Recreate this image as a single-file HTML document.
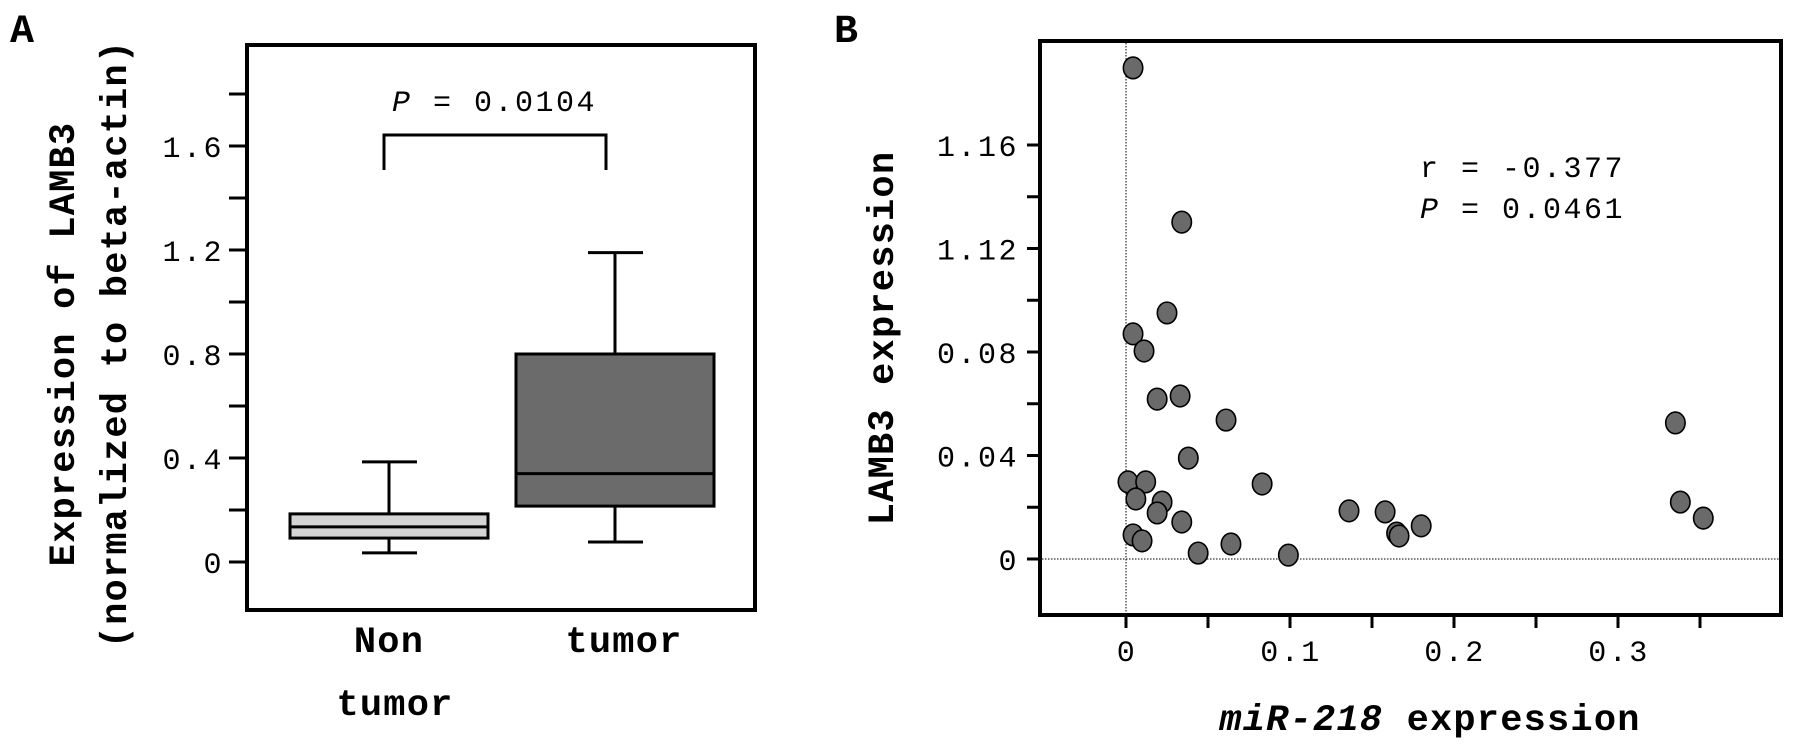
<!DOCTYPE html>
<html><head><meta charset="utf-8"><style>
html,body{margin:0;padding:0;background:#fff;}
svg{display:block;}
text{font-family:"Liberation Mono",monospace;fill:#000;}
.tick{font-size:30px;letter-spacing:2.5px;}
.title{font-size:37px;font-weight:bold;letter-spacing:1.2px;}
</style></head><body>
<svg id="fig" width="1795" height="748" viewBox="0 0 1795 748" xmlns="http://www.w3.org/2000/svg">
<text x="10" y="42" style="font-family:'Liberation Mono',monospace;font-size:40px;font-weight:bold">A</text>
<text x="834" y="42" style="font-family:'Liberation Mono',monospace;font-size:40px;font-weight:bold">B</text>
<g id="pa"></g>
<g id="pb"></g>
</svg>
<script>
// Panel A data
const groups = ["Non", "tumor"];
const whiskerLow = [0.035, 0.077];
const q1 = [0.092, 0.215];
const median = [0.135, 0.34];
const q3 = [0.185, 0.80];
const whiskerHigh = [0.385, 1.19];
const aTicks = [0, 0.4, 0.8, 1.2, 1.6];
const aTickLabels = ["0", "0.4", "0.8", "1.2", "1.6"];
const pLabelA = "0.0104";
// Panel B data
const mirX = [0.0043,0.034,0.025,0.0043,0.011,0.019,0.033,0.061,0.038,0.0012,0.012,0.083,0.006,0.022,0.019,0.034,0.136,0.0043,0.0098,0.044,0.064,0.099,0.158,0.165,0.1665,0.180,0.335,0.338,0.352];
const lambY = [0.1898,0.1302,0.0951,0.0870,0.0804,0.0618,0.0630,0.0537,0.0390,0.0298,0.0298,0.0290,0.0232,0.0220,0.0178,0.0143,0.0186,0.0093,0.0070,0.0023,0.0058,0.0015,0.0182,0.0100,0.0089,0.0128,0.0526,0.0220,0.0158];
const bYTicks = [0, 0.04, 0.08, 0.12, 0.16];
const bYTickLabels = ["0", "0.04", "0.08", "1.12", "1.16"];
const bXTicks = [0, 0.1, 0.2, 0.3];
const bXTickLabels = ["0", "0.1", "0.2", "0.3"];

const NS = "http://www.w3.org/2000/svg";
function mk(parent, tag, attrs, txt){const e=document.createElementNS(NS,tag);for(const k in attrs)e.setAttribute(k,attrs[k]);if(txt!==undefined)e.textContent=txt;parent.appendChild(e);return e;}

// ---- Panel A ----
const pa=document.getElementById('pa');
const ay=v=>562-v*260;
const ax=[389,615];
const bw=[99,99];
let e;
for(let i=0;i<=9;i++){const v=i*0.2;
 e=mk(pa,'line',{x1:229,x2:247,y1:ay(v),y2:ay(v),stroke:'#000','stroke-width':3});
 
 }
aTicks.forEach((v,i)=>{
 e=mk(pa,'text',{x:224,y:ay(v)+11,'text-anchor':'end',class:'tick'},aTickLabels[i]);
 
 });
const fills=['#d4d4d4','#6b6b6b'];
groups.forEach((g,i)=>{
 const c=ax[i];
 e=mk(pa,'line',{x1:c,x2:c,y1:ay(whiskerLow[i]),y2:ay(whiskerHigh[i]),stroke:'#000','stroke-width':3});
 
 
 [whiskerLow[i],whiskerHigh[i]].forEach(v=>{
  e=mk(pa,'line',{x1:c-27,x2:c+28,y1:ay(v),y2:ay(v),stroke:'#000','stroke-width':3});
  
  });
 e=mk(pa,'rect',{x:c-bw[i],y:ay(q3[i]),width:2*bw[i],height:ay(q1[i])-ay(q3[i]),fill:fills[i],stroke:'#000','stroke-width':3});
 
 
 e=mk(pa,'line',{x1:c-bw[i],x2:c+bw[i],y1:ay(median[i]),y2:ay(median[i]),stroke:'#000','stroke-width':3});
 
 
});
e=mk(pa,'rect',{x:247,y:45,width:508,height:565,fill:'none',stroke:'#000','stroke-width':4});


e=mk(pa,'polyline',{points:'384,170 384,135 606,135 606,170',fill:'none',stroke:'#000','stroke-width':3});


e=mk(pa,'text',{x:392,y:111,class:'tick'});


mk(e,'tspan',{'font-style':'italic'},'P');mk(e,'tspan',{},' = '+pLabelA);
e=mk(pa,'text',{x:389,y:652,'text-anchor':'middle',class:'title'},'Non');


e=mk(pa,'text',{x:624,y:652,'text-anchor':'middle',class:'title'},'tumor');


e=mk(pa,'text',{x:395,y:715,'text-anchor':'middle',class:'title'},'tumor');


e=mk(pa,'text',{x:0,y:0,'text-anchor':'middle',class:'title',transform:'translate(74,344) rotate(-90)'},'Expression of LAMB3');


e=mk(pa,'text',{x:0,y:0,'text-anchor':'middle',class:'title',transform:'translate(126,344) rotate(-90)'},'(normalized to beta-actin)');



// ---- Panel B ----
const pb=document.getElementById('pb');
const bx=v=>1126+v*1640;
const by=v=>559-v*2587.5;
for(let i=0;i<=8;i++){const v=i*0.02;
 e=mk(pb,'line',{x1:1027,x2:1040,y1:by(v),y2:by(v),stroke:'#000','stroke-width':3});
 
 }
bYTicks.forEach((v,i)=>{
 e=mk(pb,'text',{x:1019,y:by(v)+11,'text-anchor':'end',class:'tick'},bYTickLabels[i]);
 
 });
for(let i=0;i<=7;i++){const v=i*0.05;
 e=mk(pb,'line',{x1:bx(v),x2:bx(v),y1:615,y2:628,stroke:'#000','stroke-width':3});
 
 }
bXTicks.forEach((v,i)=>{
 e=mk(pb,'text',{x:bx(v)+1,y:661,'text-anchor':'middle',class:'tick'},bXTickLabels[i]);
 
 });
e=mk(pb,'line',{x1:bx(0),x2:bx(0),y1:43,y2:613,stroke:'#000','stroke-width':1,'stroke-dasharray':'1.5,1.5'});


e=mk(pb,'line',{x1:1042,x2:1779,y1:by(0),y2:by(0),stroke:'#000','stroke-width':1,'stroke-dasharray':'1.5,1.5'});


mirX.forEach((v,i)=>{
 e=mk(pb,'ellipse',{cx:bx(v),cy:by(lambY[i]),rx:9.7,ry:10.8,fill:'#6a6a6a',stroke:'#000','stroke-width':1.6});
 
 });
e=mk(pb,'rect',{x:1040,y:41,width:741,height:574,fill:'none',stroke:'#000','stroke-width':4});


e=mk(pb,'text',{x:1420,y:177,class:'tick'},'r = -0.377');


e=mk(pb,'text',{x:1420,y:218,class:'tick'});


mk(e,'tspan',{'font-style':'italic'},'P');mk(e,'tspan',{},' = 0.0461');
e=mk(pb,'text',{x:1430,y:730,'text-anchor':'middle',class:'title'});


mk(e,'tspan',{'font-style':'italic'},'miR-218');mk(e,'tspan',{},' expression');
e=mk(pb,'text',{x:0,y:0,'text-anchor':'middle',class:'title',transform:'translate(893,338) rotate(-90)'},'LAMB3 expression');


</script>
</body></html>
